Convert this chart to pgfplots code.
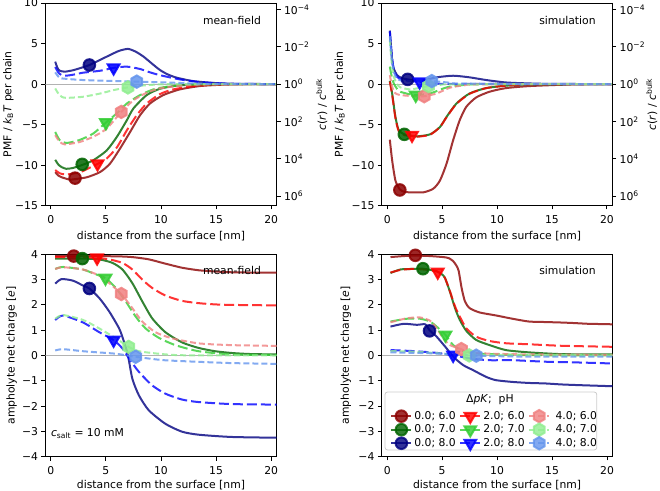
\documentclass[border=0pt]{standalone}
\usepackage{pgfplots}
\pgfplotsset{compat=1.18}
\usepackage{fontspec}
\setmainfont{DejaVu Sans}
\definecolor{c06}{HTML}{8B0000}
\definecolor{c07}{HTML}{006400}
\definecolor{c08}{HTML}{000080}
\definecolor{c26}{HTML}{FF0000}
\definecolor{c27}{HTML}{32CD32}
\definecolor{c28}{HTML}{0000FF}
\definecolor{c46}{HTML}{F08080}
\definecolor{c47}{HTML}{90EE90}
\definecolor{c48}{HTML}{6495ED}
\pgfdeclareplotmark{hexagon*}{%
  \pgfpathmoveto{\pgfpoint{0pt}{\pgfplotmarksize}}%
  \pgfpathlineto{\pgfpoint{0.866\pgfplotmarksize}{0.5\pgfplotmarksize}}%
  \pgfpathlineto{\pgfpoint{0.866\pgfplotmarksize}{-0.5\pgfplotmarksize}}%
  \pgfpathlineto{\pgfpoint{0pt}{-\pgfplotmarksize}}%
  \pgfpathlineto{\pgfpoint{-0.866\pgfplotmarksize}{-0.5\pgfplotmarksize}}%
  \pgfpathlineto{\pgfpoint{-0.866\pgfplotmarksize}{0.5\pgfplotmarksize}}%
  \pgfpathclose
  \pgfusepathqfillstroke}
\newcommand{\fs}{\fontsize{10.8bp}{13bp}\selectfont}
\pgfplotsset{
  s06/.style={c06, line width=2bp, opacity=0.8},
  s07/.style={c07, line width=2bp, opacity=0.8},
  s08/.style={c08, line width=2bp, opacity=0.8},
  s26/.style={c26, line width=2bp, opacity=0.8, dash pattern=on 10bp off 4bp},
  s27/.style={c27, line width=2bp, opacity=0.8, dash pattern=on 10bp off 4bp},
  s28/.style={c28, line width=2bp, opacity=0.8, dash pattern=on 10bp off 4bp},
  s46/.style={c46, line width=2bp, opacity=0.8, dash pattern=on 6bp off 3bp},
  s47/.style={c47, line width=2bp, opacity=0.8, dash pattern=on 6bp off 3bp},
  s48/.style={c48, line width=2bp, opacity=0.8, dash pattern=on 6bp off 3bp},
  cv/.style={forget plot, smooth, tension=0.4, no marks},
  mk0/.style={forget plot, only marks, mark=*, mark size=5.8bp, opacity=0.85, mark options={solid}},
  mk2/.style={forget plot, only marks, mark=triangle*, mark size=6.8bp, opacity=0.85, mark options={solid, rotate=180}},
  mk4/.style={forget plot, only marks, mark=hexagon*, mark size=6.2bp, opacity=0.85, mark options={solid}},
  base/.style={
    scale only axis, anchor=south west,
    xmin=-0.5, xmax=20.5, xtick={0,5,10,15,20},
    tick align=outside, tick pos=left,
    major tick length=3.8bp,
    every tick/.style={black, line width=0.86bp},
    axis line style={line width=0.86bp},
    tick label style={font=\fs},
    xticklabel style={yshift=-2.5bp},
    label style={font=\fs},
    /pgf/number format/assume math mode=true,
    xlabel={distance from the surface [nm]},
    clip=true,
  },
  pmf/.style={base, ymin=-15, ymax=10, ytick={-15,-10,-5,0,5,10},
    yticklabels={−15,−10,−5,0,5,10},
    xlabel style={yshift=-0.5bp},
    ylabel={PMF / \textit{k}\textsubscript{B}\textit{T} per chain}},
  chg/.style={base, ymin=-4, ymax=4, ytick={-4,-3,-2,-1,0,1,2,3,4},
    yticklabels={−4,−3,−2,−1,0,1,2,3,4},
    xlabel style={yshift=1.5bp},
    ylabel={ampholyte net charge [\textit{e}]}},
  logr/.style={scale only axis, anchor=south west,
    axis x line=none, axis y line*=right, y dir=reverse,
    xmin=-0.5, xmax=20.5, ymin=4.54e-5, ymax=3.269e6,
    ytick={1e-4,1e-2,1,1e2,1e4,1e6},
    yticklabels={10\textsuperscript{−4},10\textsuperscript{−2},10\textsuperscript{0},10\textsuperscript{2},10\textsuperscript{4},10\textsuperscript{6}},
    tick align=outside, major tick length=3.8bp, minor tick length=0pt,
    every tick/.style={black, line width=0.86bp},
    axis line style={line width=0.86bp},
    tick label style={font=\fs}, label style={font=\fs},
    ylabel={\textit{c}(\textit{r}) / \textit{c}\textsuperscript{bulk}}},
  zero/.style={forget plot, black!30, line width=1bp},
}
\begin{document}
\begin{tikzpicture}
\path[use as bounding box] (0,0) rectangle (660bp,491bp);
% ---------------- top left: mean-field PMF
\begin{axis}[pmf, at={(45.3bp,285.3bp)}, width=231.4bp, height=202.7bp,
  ylabel style={at={(axis description cs:-0.16,0.5)}, anchor=center}]
\addplot[zero] coordinates {(-0.5,0) (20.5,0)};
\addplot[s06,cv] coordinates {(0.4,-10.87)(0.7,-11.3)(1.0,-11.5)(1.7,-11.78)(2.2,-11.72)(3.25,-11.5)(4.45,-10.87)(5.36,-9.83)(6.27,-7.98)(7.2,-5.9)(8.1,-3.84)(9.0,-2.4)(10.2,-1.36)(11.7,-0.66)(13.5,-0.25)(15.5,-0.08)(17.5,-0.02)(20.5,0)};
\addplot[s06,mk0] coordinates {(2.2,-11.6)};
\addplot[s07,cv] coordinates {(0.4,-9.34)(0.7,-9.95)(1.0,-10.25)(1.4,-10.45)(2.0,-10.35)(2.9,-9.95)(3.85,-9.4)(5.06,-8.2)(6.0,-6.5)(6.9,-4.46)(7.5,-3.0)(8.7,-1.36)(9.9,-0.58)(11.4,-0.2)(13,-0.05)(15,0)(20.5,0)};
\addplot[s07,mk0] coordinates {(2.85,-9.9)};
\addplot[s08,cv] coordinates {(0.4,2.77)(0.6,2.0)(0.8,1.65)(1.27,1.53)(2.0,1.7)(2.6,1.94)(3.5,2.35)(4.5,3.0)(5.4,3.6)(6.2,4.1)(7.0,4.34)(7.7,4.0)(8.4,3.4)(9.2,2.5)(9.9,1.74)(10.6,1.2)(11.4,0.8)(12.9,0.37)(15,0.12)(17,0.03)(20.5,0)};
\addplot[s08,mk0] coordinates {(3.5,2.35)};
\addplot[s26,cv] coordinates {(0.4,-10.6)(0.8,-11.0)(1.4,-11.15)(2.6,-10.9)(3.4,-10.4)(4.24,-9.85)(5.06,-9.2)(6.0,-7.8)(6.9,-5.7)(7.8,-3.84)(8.7,-2.4)(9.9,-1.24)(11.1,-0.66)(12.9,-0.25)(14.5,-0.08)(17,0)(20.5,0)};
\addplot[s26,mk2] coordinates {(4.24,-9.83)};
\addplot[s27,cv] coordinates {(0.4,-5.9)(0.8,-6.9)(1.4,-7.27)(2.6,-6.9)(3.85,-6.1)(5.0,-4.75)(6.0,-3.6)(6.9,-2.4)(8.1,-1.36)(9.3,-0.66)(10.5,-0.33)(12.3,-0.12)(14,-0.03)(20.5,0)};
\addplot[s27,mk2] coordinates {(5.0,-4.75)};
\addplot[s28,cv] coordinates {(0.4,2.1)(0.7,1.4)(1.0,1.1)(1.5,1.05)(2.2,1.2)(2.9,1.4)(4.5,1.65)(5.7,2.0)(6.9,2.15)(8.1,1.86)(9.0,1.45)(9.9,1.1)(11.7,0.58)(13.5,0.25)(15.4,0.08)(17,0.02)(20.5,0)};
\addplot[s28,mk2] coordinates {(5.7,2.0)};
\addplot[s46,cv] coordinates {(0.4,-6.3)(0.8,-7.1)(1.27,-7.44)(2.6,-7.15)(3.85,-6.5)(5.06,-5.5)(6.4,-3.43)(7.5,-2.0)(8.7,-1.07)(9.9,-0.54)(11.7,-0.2)(13.5,-0.06)(20.5,0)};
\addplot[s46,mk4] coordinates {(6.4,-3.43)};
\addplot[s47,cv] coordinates {(0.4,-0.54)(0.7,-1.2)(1.0,-1.57)(1.4,-1.7)(2.9,-1.57)(4.5,-1.16)(5.7,-0.74)(7.0,-0.41)(8.4,-0.17)(9.9,-0.04)(12,0)(20.5,0)};
\addplot[s47,mk4] coordinates {(7.0,-0.41)};
\addplot[s48,cv] coordinates {(0.4,1.45)(0.7,0.9)(1.0,0.7)(2.9,0.5)(6.0,0.37)(7.8,0.3)(10.5,0.2)(13.5,0.05)(16,0.01)(20.5,0)};
\addplot[s48,mk4] coordinates {(7.8,0.3)};
\end{axis}
\begin{axis}[logr, ymode=log, at={(45.3bp,285.3bp)}, width=231.4bp, height=202.7bp,
  ylabel style={at={(axis description cs:1.1945,0.5)}, anchor=center}]
\addplot[draw=none, forget plot] coordinates {(0,1)};
\end{axis}
% ---------------- top right: simulation PMF
\begin{axis}[pmf, at={(381.7bp,285.3bp)}, width=230.7bp, height=202.7bp,
  ylabel style={at={(axis description cs:-0.181,0.5)}, anchor=center}]
\addplot[zero] coordinates {(-0.5,0) (20.5,0)};
\addplot[s06,cv] coordinates {(0.24,-6.86)(0.45,-9.4)(0.75,-11.9)(1.15,-13.0)(1.6,-13.3)(2.1,-13.35)(3.3,-13.35)(4.2,-12.9)(4.8,-11.9)(5.4,-9.83)(6.0,-6.94)(6.6,-4.46)(7.2,-2.8)(8.1,-1.65)(9.3,-0.95)(10.8,-0.5)(12.9,-0.25)(16,-0.08)(18,-0.02)(20.5,0)};
\addplot[s06,mk0] coordinates {(1.15,-13.06)};
\addplot[s07,cv] coordinates {(0.24,0.4)(0.45,-1.16)(0.75,-4.05)(1.05,-5.7)(1.56,-6.2)(2.0,-6.35)(2.7,-6.45)(3.9,-6.2)(4.8,-5.3)(5.4,-4.05)(6.3,-2.4)(7.5,-1.16)(9.0,-0.5)(10.8,-0.2)(12.9,-0.05)(20.5,0)};
\addplot[s07,mk0] coordinates {(1.56,-6.2)};
\addplot[s08,cv] coordinates {(0.24,6.6)(0.45,2.98)(0.6,1.9)(0.9,1.1)(1.3,0.75)(1.86,0.58)(3.0,0.41)(4.5,0.83)(6.0,1.03)(7.5,0.83)(9,0.5)(10.8,0.2)(12.9,0.08)(15,0.02)(20.5,0)};
\addplot[s08,mk0] coordinates {(1.86,0.58)};
\addplot[s26,cv] coordinates {(0.24,0.3)(0.45,-1.3)(0.75,-4.2)(1.05,-5.8)(1.56,-6.3)(2.26,-6.4)(2.7,-6.5)(3.9,-6.25)(4.8,-5.3)(5.4,-4.1)(6.3,-2.45)(7.5,-1.2)(9.0,-0.5)(10.8,-0.2)(12.9,-0.05)(20.5,0)};
\addplot[s26,mk2] coordinates {(2.26,-6.3)};
\addplot[s27,cv] coordinates {(0.24,2.15)(0.4,1.0)(0.6,0.08)(0.9,-0.6)(1.2,-0.95)(2.1,-1.28)(2.6,-1.36)(3.9,-1.16)(5.4,-0.41)(6.9,-0.12)(8.5,-0.02)(20.5,0)};
\addplot[s27,mk2] coordinates {(2.6,-1.36)};
\addplot[s28,cv] coordinates {(0.24,6.5)(0.4,3.8)(0.6,1.74)(0.9,0.9)(1.2,0.58)(2.0,0.4)(2.95,0.29)(4.5,0.08)(6,0.02)(20.5,0)};
\addplot[s28,mk2] coordinates {(2.95,0.29)};
\addplot[s46,cv] coordinates {(0.24,1.1)(0.4,0.0)(0.6,-0.95)(0.9,-1.25)(1.2,-1.36)(2.4,-1.49)(3.37,-1.5)(4.5,-1.16)(5.7,-0.45)(6.9,-0.17)(8.5,-0.03)(20.5,0)};
\addplot[s46,mk4] coordinates {(3.37,-1.5)};
\addplot[s47,cv] coordinates {(0.24,5.45)(0.4,2.8)(0.6,0.9)(0.9,0.0)(1.2,-0.41)(2.1,-0.66)(3.0,-0.45)(3.76,-0.25)(4.8,-0.12)(6,-0.03)(20.5,0)};
\addplot[s47,mk4] coordinates {(3.76,-0.25)};
\addplot[s48,cv] coordinates {(0.24,5.9)(0.4,3.3)(0.6,1.5)(0.9,0.7)(1.35,0.4)(2.5,0.37)(4.06,0.37)(5.7,0.17)(7,0.05)(20.5,0)};
\addplot[s48,mk4] coordinates {(4.06,0.37)};
\end{axis}
\begin{axis}[logr, ymode=log, at={(381.7bp,285.3bp)}, width=230.7bp, height=202.7bp,
  ylabel style={at={(axis description cs:1.1708,0.5)}, anchor=center}]
\addplot[draw=none, forget plot] coordinates {(0,1)};
\end{axis}
% ---------------- bottom left: mean-field charge
\begin{axis}[chg, at={(45.3bp,34.3bp)}, width=231.4bp, height=202.4bp,
  ylabel style={at={(axis description cs:-0.145,0.5)}, anchor=center}]
\addplot[zero] coordinates {(-0.5,0) (20.5,0)};
\addplot[s06,cv] coordinates {(0.4,3.93)(3,3.93)(6,3.92)(7.4,3.89)(8.9,3.8)(10.4,3.63)(11.9,3.47)(13.4,3.37)(14.9,3.32)(16.4,3.29)(18,3.28)(20.5,3.28)};
\addplot[s06,mk0] coordinates {(2.08,3.93)};
\addplot[s07,cv] coordinates {(0.4,3.83)(2.86,3.83)(4.4,3.8)(5.6,3.66)(6.5,3.4)(7.4,2.86)(8.3,2.14)(9.2,1.47)(10.4,0.92)(11.9,0.52)(13.4,0.3)(14.9,0.17)(16.4,0.1)(18,0.06)(20.5,0.04)};
\addplot[s07,mk0] coordinates {(2.86,3.83)};
\addplot[s08,cv] coordinates {(0.4,2.84)(0.96,3.02)(2.0,2.96)(2.9,2.77)(3.5,2.65)(4.4,2.27)(5.3,1.74)(6.2,1.07)(6.6,0.6)(7.0,0.01)(7.4,-0.92)(8.0,-1.58)(8.9,-2.17)(10.4,-2.7)(11.9,-3.01)(13.4,-3.13)(16.4,-3.22)(20.5,-3.25)};
\addplot[s08,mk0] coordinates {(3.5,2.65)};
\addplot[s26,cv] coordinates {(0.4,3.89)(3,3.88)(4.2,3.86)(5.3,3.8)(6.5,3.66)(7.4,3.4)(8.3,3.0)(9.2,2.67)(10.4,2.37)(11.9,2.16)(13.4,2.07)(14.9,2.02)(16.4,2.0)(20.5,1.98)};
\addplot[s26,mk2] coordinates {(4.2,3.86)};
\addplot[s27,cv] coordinates {(0.4,3.42)(1.1,3.5)(2.9,3.4)(4.0,3.22)(4.96,3.06)(5.9,2.67)(6.8,2.14)(7.7,1.54)(8.6,1.07)(9.8,0.7)(11.3,0.41)(13.4,0.17)(16.4,0.04)(20.5,0.02)};
\addplot[s27,mk2] coordinates {(4.96,3.06)};
\addplot[s28,cv] coordinates {(0.4,1.4)(1.1,1.58)(2.9,1.31)(4.4,0.92)(5.7,0.61)(6.5,0.28)(7.1,-0.12)(8.0,-0.65)(9.2,-1.18)(10.4,-1.51)(11.9,-1.74)(13.4,-1.84)(16.4,-1.92)(20.5,-1.94)};
\addplot[s28,mk2] coordinates {(5.7,0.61)};
\addplot[s46,cv] coordinates {(0.4,3.42)(1.1,3.49)(2.9,3.4)(4.4,3.16)(5.3,2.86)(6.4,2.43)(7.4,1.87)(8.3,1.34)(9.5,0.92)(11,0.68)(13.4,0.48)(16.4,0.41)(20.5,0.38)};
\addplot[s46,mk4] coordinates {(6.4,2.43)};
\addplot[s47,cv] coordinates {(0.4,1.45)(1.1,1.6)(2.9,1.41)(4.4,1.07)(5.9,0.68)(7.07,0.34)(8,0.17)(9.8,0.07)(12,0.01)(20.5,0)};
\addplot[s47,mk4] coordinates {(7.07,0.34)};
\addplot[s48,cv] coordinates {(0.4,0.2)(1.1,0.25)(2.9,0.17)(4.4,0.12)(5.9,0.07)(7.7,-0.05)(8.9,-0.12)(10.4,-0.19)(13.4,-0.25)(16.4,-0.3)(20.5,-0.33)};
\addplot[s48,mk4] coordinates {(7.7,-0.05)};
\end{axis}
% ---------------- bottom right: simulation charge
\begin{axis}[chg, at={(381.7bp,34.5bp)}, width=230.8bp, height=202.2bp,
  ylabel style={at={(axis description cs:-0.155,0.5)}, anchor=center},
  legend style={draw=none, fill=none, at={(axis cs:0.0,-2.05)}, anchor=north west,
    font=\fs, /tikz/every even column/.append style={column sep=1.5bp}},
  legend columns=3, legend cell align=left,
  legend image code/.code={\draw[mark repeat=2,mark phase=2,#1] plot coordinates {(0bp,0bp) (10bp,0bp) (20bp,0bp)};}]
\addplot[zero] coordinates {(-0.5,0) (20.5,0)};
\addplot[s06,cv] coordinates {(0.3,3.89)(1.5,3.93)(2.56,3.95)(3.9,3.93)(5.1,3.89)(5.6,3.85)(6.0,3.73)(6.3,3.55)(6.5,3.35)(6.77,2.67)(7.07,2.14)(7.5,1.87)(8.4,1.7)(9.9,1.58)(11.4,1.45)(12.9,1.34)(14.4,1.32)(15.9,1.3)(17,1.28)(18.3,1.25)(19.5,1.24)(20.5,1.23)};
\addplot[s06,mk0] coordinates {(2.56,3.96)};
\addplot[s07,cv] coordinates {(0.3,3.26)(1.2,3.4)(2.2,3.42)(3.25,3.43)(4.5,3.33)(5.0,3.2)(5.26,3.06)(5.7,2.53)(6.17,1.87)(6.6,1.41)(7.2,0.97)(8.1,0.61)(9.3,0.41)(10.8,0.21)(12.9,0.12)(15.9,0.05)(20.5,0.04)};
\addplot[s07,mk0] coordinates {(3.25,3.43)};
\addplot[s08,cv] coordinates {(0.3,1.14)(1.5,1.25)(2.7,1.21)(3.46,1.23)(3.85,1.0)(4.5,0.74)(5.4,0.28)(6.0,-0.05)(6.9,-0.38)(7.8,-0.58)(9.0,-0.85)(9.9,-0.98)(11.4,-1.05)(12.9,-1.09)(14.4,-1.11)(15.9,-1.15)(17.7,-1.18)(20.5,-1.22)};
\addplot[s08,mk0] coordinates {(3.85,0.97)};
\addplot[s26,cv] coordinates {(0.3,3.28)(1.2,3.38)(2.2,3.42)(3.25,3.4)(4.5,3.33)(5.0,3.2)(5.26,3.06)(5.7,2.55)(6.17,1.94)(6.6,1.54)(7.2,1.07)(8.1,0.74)(9.3,0.57)(10.8,0.48)(12.9,0.44)(15.9,0.38)(20.5,0.34)};
\addplot[s26,mk2] coordinates {(4.6,3.3)};
\addplot[s27,cv] coordinates {(0.3,1.34)(1.8,1.45)(3.0,1.45)(3.9,1.34)(4.6,1.1)(5.3,0.81)(6.0,0.41)(6.9,0.17)(8.4,0.07)(12.9,0.01)(20.5,0.0)};
\addplot[s27,mk2] coordinates {(5.3,0.81)};
\addplot[s28,cv] coordinates {(0.3,0.21)(2.4,0.17)(4.5,0.1)(6.0,0.01)(7.5,-0.12)(9.3,-0.19)(11.4,-0.19)(14.4,-0.25)(17.4,-0.28)(20.5,-0.32)};
\addplot[s28,mk2] coordinates {(6.0,0.01)};
\addplot[s46,cv] coordinates {(0.3,1.31)(1.8,1.47)(3.0,1.5)(3.9,1.37)(4.5,1.07)(5.1,0.68)(5.7,0.41)(6.7,0.25)(7.5,0.12)(9.3,0.07)(12.9,0.04)(20.5,0.02)};
\addplot[s46,mk4] coordinates {(6.75,0.25)};
\addplot[s47,cv] coordinates {(0.3,0.17)(2.4,0.15)(4.8,0.08)(7.46,0.0)(10,0.02)(20.5,0.0)};
\addplot[s47,mk4] coordinates {(7.46,0.0)};
\addplot[s48,cv] coordinates {(0.3,0.12)(4.2,0.08)(8.1,-0.01)(12.9,-0.05)(20.5,-0.05)};
\addplot[s48,mk4] coordinates {(8.1,-0.01)};
\draw[draw=black!20, fill=white, fill opacity=0.8, rounded corners=2.5bp, line width=0.8bp] (axis cs:-0.2,-1.45) rectangle (axis cs:19.07,-3.74);
\node[font=\fs] at (axis cs:9.35,-1.76) {Δ\textit{pK}; \ pH};
\addlegendimage{s06, mark=*, mark size=5.8bp, mark options={solid}}
\addlegendentry{0.0; 6.0}
\addlegendimage{s26, mark=triangle*, mark size=6.8bp, mark options={solid, rotate=180}}
\addlegendentry{2.0; 6.0}
\addlegendimage{s46, mark=hexagon*, mark size=6.2bp, mark options={solid}}
\addlegendentry{\ 4.0; 6.0}
\addlegendimage{s07, mark=*, mark size=5.8bp, mark options={solid}}
\addlegendentry{0.0; 7.0}
\addlegendimage{s27, mark=triangle*, mark size=6.8bp, mark options={solid, rotate=180}}
\addlegendentry{2.0; 7.0}
\addlegendimage{s47, mark=hexagon*, mark size=6.2bp, mark options={solid}}
\addlegendentry{\ 4.0; 7.0}
\addlegendimage{s08, mark=*, mark size=5.8bp, mark options={solid}}
\addlegendentry{0.0; 8.0}
\addlegendimage{s28, mark=triangle*, mark size=6.8bp, mark options={solid, rotate=180}}
\addlegendentry{2.0; 8.0}
\addlegendimage{s48, mark=hexagon*, mark size=6.2bp, mark options={solid}}
\addlegendentry{\ 4.0; 8.0}
\end{axis}
% ---------------- panel texts
\node[font=\fs] at (232bp,471bp) {mean-field};
\node[font=\fs] at (567.5bp,471bp) {simulation};
\node[font=\fs] at (232bp,220.3bp) {mean-field};
\node[font=\fs] at (567.5bp,220.3bp) {simulation};
\node[font=\fs] at (87.5bp,57bp) {\textit{c}\textsubscript{salt} = 10 mM};
\end{tikzpicture}
\end{document}
